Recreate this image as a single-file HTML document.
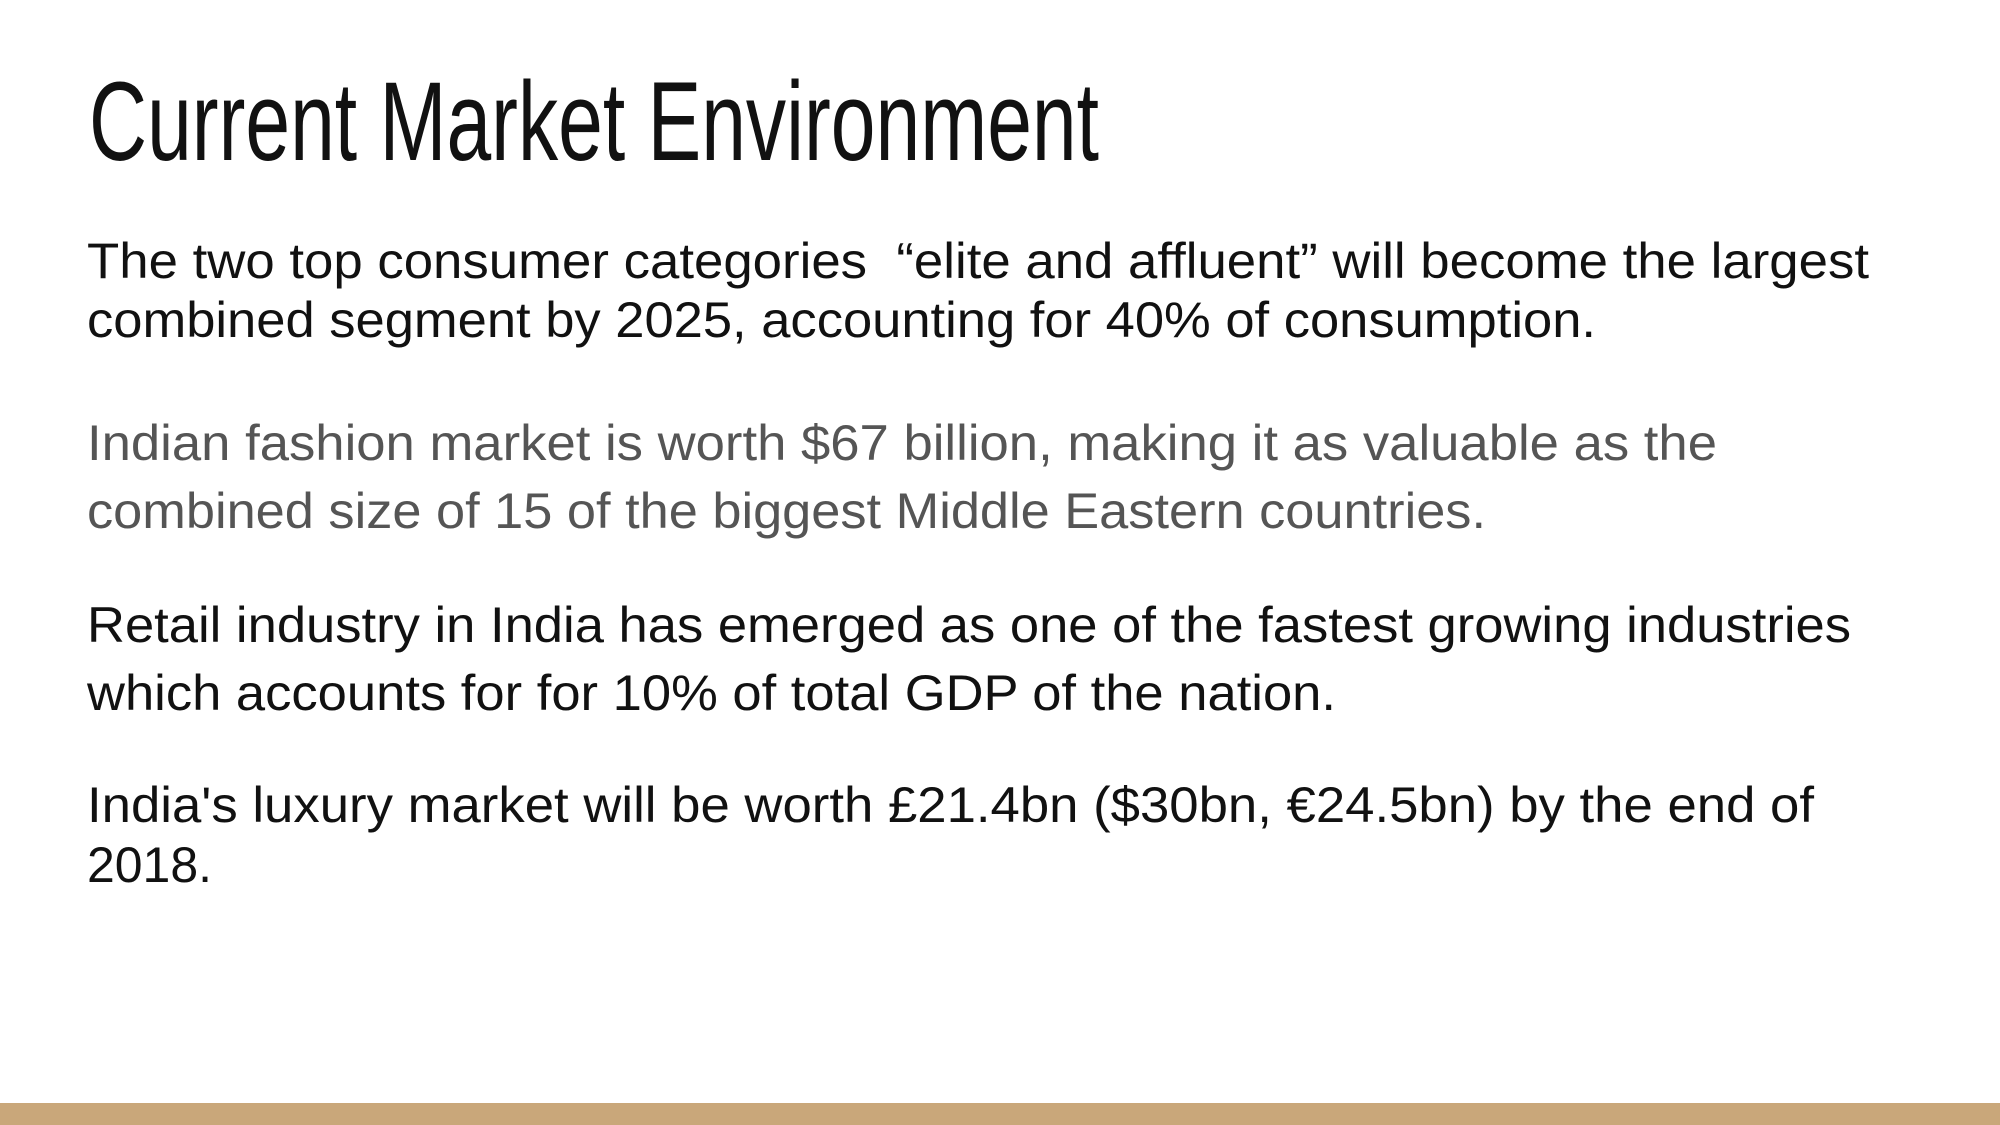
<!DOCTYPE html>
<html><head><meta charset="utf-8"><style>
html,body{margin:0;padding:0;}
body{width:2000px;height:1125px;background:#fff;position:relative;overflow:hidden;font-family:"Liberation Sans",sans-serif;}
.ln{position:absolute;left:87px;white-space:nowrap;font-size:50px;line-height:60px;color:#111;transform-origin:0 50%;}
.g{color:#555;}
#title{position:absolute;left:89px;top:62px;font-size:112px;line-height:120px;color:#111;white-space:nowrap;transform-origin:0 50%;font-weight:normal;}
#bar{position:absolute;left:0;top:1103px;width:2000px;height:22px;background:#c9a77a;}
</style></head><body>
<div id="title" data-w="1010">Current Market Environment</div>
<div class="ln" style="top:231px" data-w="1782">The two top consumer categories &nbsp;“elite and affluent” will become the largest</div>
<div class="ln" style="top:290px" data-w="1509">combined segment by 2025, accounting for 40% of consumption.</div>
<div class="ln g" style="top:413px" data-w="1630">Indian fashion market is worth $67 billion, making it as valuable as the</div>
<div class="ln g" style="top:481px" data-w="1399">combined size of 15 of the biggest Middle Eastern countries.</div>
<div class="ln" style="top:595px" data-w="1764">Retail industry in India has emerged as one of the fastest growing industries</div>
<div class="ln" style="top:663px" data-w="1249">which accounts for for 10% of total GDP of the nation.</div>
<div class="ln" style="top:775px" data-w="1727">India's luxury market will be worth £21.4bn ($30bn, €24.5bn) by the end of</div>
<div class="ln" style="top:835px" data-w="125">2018.</div>
<div id="bar"></div>
<script>
document.querySelectorAll('[data-w]').forEach(function(el){
  var w=el.getBoundingClientRect().width;
  var t=parseFloat(el.getAttribute('data-w'));
  if(w>0) el.style.transform='scaleX('+(t/w)+')';
});
</script>
</body></html>
